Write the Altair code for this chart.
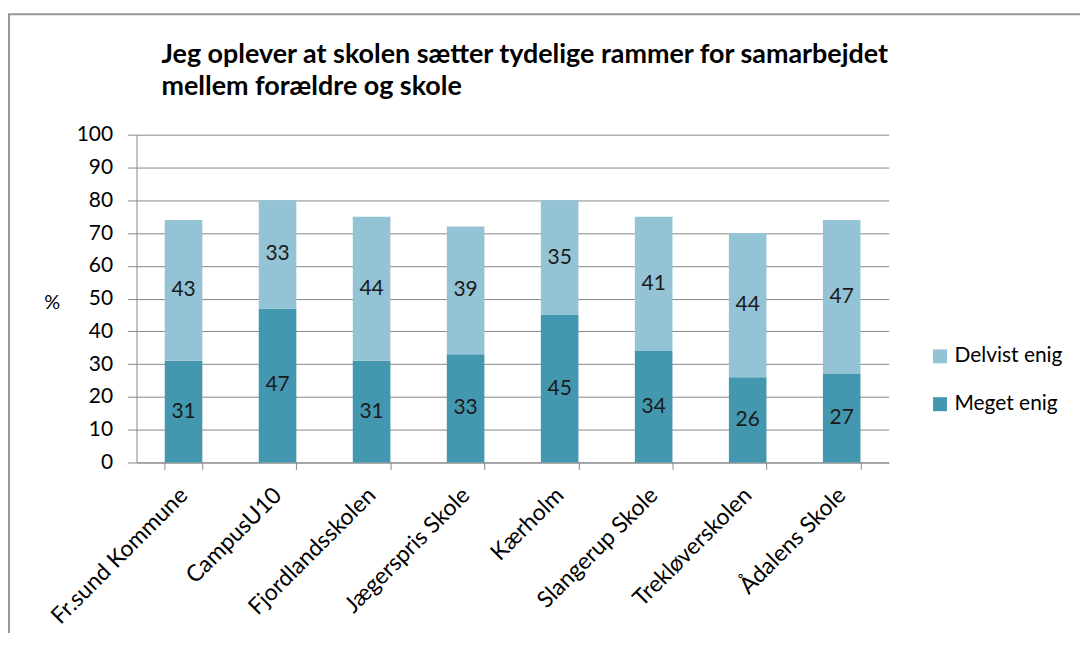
import altair as alt
import pandas as pd

schools = ["Fr.sund Kommune", "CampusU10", "Fjordlandsskolen", "Jægerspris Skole",
           "Kærholm", "Slangerup Skole", "Trekløverskolen", "Ådalens Skole"]
meget = [31, 47, 31, 33, 45, 34, 26, 27]
delvist = [43, 33, 44, 39, 35, 41, 44, 47]
series = ["Delvist enig", "Meget enig"]
colors = ["#93C3D4", "#4398B0"]
title_lines = ["Jeg oplever at skolen sætter tydelige rammer for samarbejdet",
               "mellem forældre og skole"]

rows = []
for s, m, d in zip(schools, meget, delvist):
    rows.append({"school": s, "serie": "Meget enig", "v": m, "ord": 0})
    rows.append({"school": s, "serie": "Delvist enig", "v": d, "ord": 1})
df = pd.DataFrame(rows)

FONT = "Lato"
W, H = 755, 329

x_axis = alt.Axis(labelAngle=-45, labelFont=FONT, labelFontSize=23, labelColor="#000",
                  labelAlign="right", labelBaseline="middle", labelPadding=22,
                  labelLimit=400, tickBand="extent", tickSize=7, tickColor="#888",
                  domainColor="#888", grid=False)
x_enc = alt.X("school:N", sort=schools, title=None,
              scale=alt.Scale(paddingInner=0.6, paddingOuter=0.3), axis=x_axis)

y_axis = alt.Axis(values=list(range(0, 101, 10)), labelOverlap=False, tickSize=9,
                  tickColor="#888", domainColor="#888", gridColor="#888",
                  labelFont=FONT, labelFontSize=21, labelColor="#000", labelPadding=15,
                  titleAngle=0, titleX=-85, titleY=168, titleAlign="center",
                  titleBaseline="middle", titleFont=FONT, titleFontSize=20,
                  titleFontWeight="normal", titleColor="#000")
y_scale = alt.Scale(domain=[0, 100])

bars = alt.Chart(df).mark_bar().encode(
    x=x_enc,
    y=alt.Y("v:Q", stack="zero", title="%", scale=y_scale, axis=y_axis),
    color=alt.Color("serie:N", scale=alt.Scale(domain=series, range=colors),
                    legend=alt.Legend(title=None, orient="none", legendX=796, legendY=212,
                                      symbolType="square", symbolSize=196,
                                      symbolStrokeWidth=0, labelFont=FONT,
                                      labelFontSize=21, labelColor="#000",
                                      rowPadding=26, labelOffset=4)),
    order=alt.Order("ord:Q"),
)

labels = alt.Chart(df).transform_stack(
    stack="v", groupby=["school"], as_=["v0", "v1"], sort=[alt.SortField("ord")]
).transform_calculate(mid="(datum.v0 + datum.v1) / 2").mark_text(
    font=FONT, fontSize=21, color="#1a1a1a", baseline="middle"
).encode(x=x_enc, y=alt.Y("mid:Q", title="%", scale=y_scale, axis=y_axis), text="v:Q")

frame = alt.Chart(pd.DataFrame({"a": [0]})).mark_rect(
    fill=None, stroke="#999", strokeWidth=2
).encode(x=alt.value(-128), x2=alt.value(W + 300), y=alt.value(-121), y2=alt.value(H + 300))

chart = alt.layer(frame, bars, labels).properties(
    width=W, height=H,
    autosize=alt.AutoSizeParams(type="none"),
    padding={"left": 129, "top": 126, "right": 192, "bottom": 170},
    title=alt.TitleParams(text=title_lines, anchor="start", dx=154, dy=88, offset=0,
                          baseline="top", font=FONT, fontSize=27, fontWeight="bold",
                          color="#000", lineHeight=32),
).configure_view(stroke=None).configure_axis(domainWidth=1, gridWidth=1, tickWidth=1)

chart.save("out.html", embed_options={"renderer": "svg", "actions": False})
